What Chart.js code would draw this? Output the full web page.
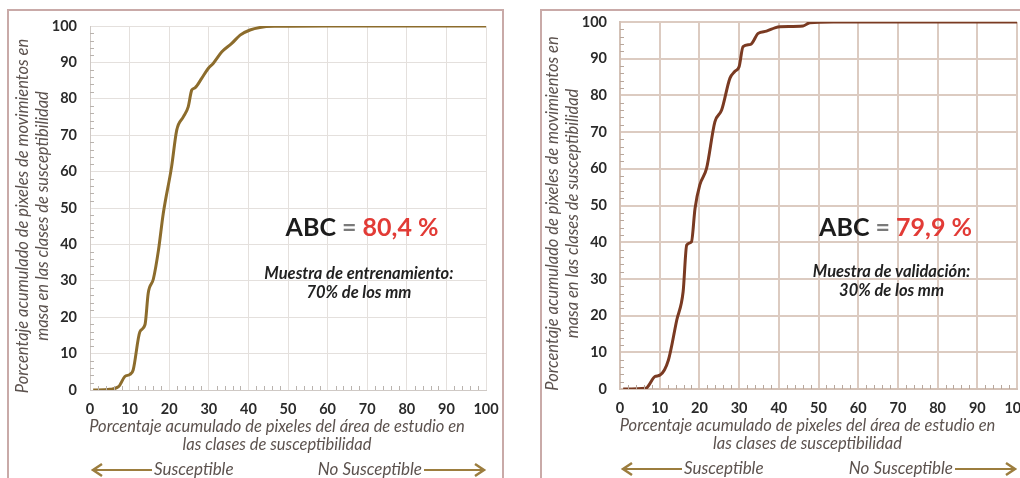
<!DOCTYPE html>
<html>
<head>
<meta charset="utf-8">
<script src="https://cdn.jsdelivr.net/npm/chart.js@4.4.1/dist/chart.umd.min.js"></script>
<style>
  html, body { margin: 0; padding: 0; background: #fff; overflow: hidden; width: 1020px; height: 478px; }
  .panel { position: absolute; border: 2px solid #c9aaa8; background: #fff; }
  canvas { position: absolute; }
</style>
</head>
<body>
<div class="panel" style="left:7px; top:9px; width:493px; height:480px;"></div>
<div class="panel" style="left:540px; top:9px; width:500px; height:480px;"></div>
<canvas id="trainChart" width="494" height="468" style="left:8px; top:10px;"></canvas>
<canvas id="validChart" width="499" height="468" style="left:541px; top:10px;"></canvas>
<script>
// Main

// curva de exito - muestra de entrenamiento (70%)
var trainX = [0.8, 5, 7.2, 8.8, 10.1, 10.9, 12.6, 13.9, 14.7, 16.0, 17.3, 18.5, 20.6, 21.9, 23.6, 24.8, 25.7, 26.5, 28.2, 29.9, 31.1, 33.3, 35.8, 37.9, 40.4, 42.9, 46.5, 60, 80, 100];
var trainY = [0, 0.2, 0.9, 3.7, 4.3, 5.5, 16, 18, 26.6, 30.5, 38.5, 48.5, 61.3, 71.4, 75.1, 77.8, 82.4, 83, 85.6, 88.4, 89.7, 92.9, 95.2, 97.5, 98.9, 99.6, 99.9, 100, 100, 100];

// curva de prediccion - muestra de validacion (30%)
var validX = [0.8, 6.5, 7.3, 8.8, 10.1, 12.2, 14.3, 15.9, 16.8, 18.0, 18.9, 20.1, 21.8, 23.9, 25.6, 27.7, 28.9, 30.0, 31.0, 32.9, 34.8, 36.9, 39.0, 40.3, 46.1, 47.8, 53.7, 70, 100];
var validY = [0, 0.2, 1.1, 3.4, 3.8, 7.9, 18.8, 26.5, 39.2, 40.1, 49.2, 55.6, 60.1, 72.8, 76, 84.7, 86.5, 87.8, 93.3, 93.9, 96.9, 97.5, 98.4, 98.7, 98.9, 99.8, 100, 100, 100];

var axisTicks = [0, 10, 20, 30, 40, 50, 60, 70, 80, 90, 100];

var yTitle = ["Porcentaje acumulado de pixeles de movimientos en", "masa en las clases de susceptibilidad"];
var xTitle = ["Porcentaje acumulado de pixeles del área de estudio en", "las clases de susceptibilidad"];

var FONT = "Lato, 'Open Sans', sans-serif";

function toPoints(xs, ys) {
    var pts = [];
    for (var i = 0; i < xs.length; i++) pts.push({x: xs[i], y: ys[i]});
    return pts;
}

// textos, flechas y marcas menores
const decoPlugin = {
    id: 'deco',
    afterDraw(chart) {
        var ctx = chart.ctx, a = chart.chartArea, sx = chart.scales.x, sy = chart.scales.y;
        var o = chart.options.plugins.deco;
        ctx.save();

        // minor ticks every 2 units
        ctx.strokeStyle = o.minorColor;
        ctx.lineWidth = 1;
        ctx.beginPath();
        for (var v = 2; v < 100; v += 2) {
            if (v % 10 === 0) continue;
            var px = Math.round(sx.getPixelForValue(v)) + 0.5;
            ctx.moveTo(px, a.bottom); ctx.lineTo(px, a.bottom - 4);
            var py = Math.round(sy.getPixelForValue(v)) + 0.5;
            ctx.moveTo(a.left, py); ctx.lineTo(a.left + 4, py);
        }
        ctx.stroke();

        // y title
        ctx.fillStyle = '#5c524e';
        ctx.font = "italic 16.5px " + FONT;
        ctx.textAlign = 'center';
        ctx.textBaseline = 'middle';
        ctx.save();
        ctx.translate(a.left - 67, (a.top + a.bottom) / 2 + 8);
        ctx.rotate(-Math.PI / 2);
        ctx.fillText(yTitle[0], 0, 0);
        ctx.fillText(yTitle[1], 0, 20);
        ctx.restore();

        // x title
        var cx = (a.left + a.right) / 2 - 11;
        ctx.font = "italic 16.5px " + FONT;
        ctx.fillText(xTitle[0], cx, a.bottom + 37);
        ctx.fillText(xTitle[1], cx, a.bottom + 55);

        // arrows
        var ay = a.bottom + 80;
        ctx.font = "italic 17px " + FONT;
        ctx.textAlign = 'left';
        ctx.fillText("Susceptible", a.left + 64, ay);
        ctx.textAlign = 'right';
        ctx.fillText("No Susceptible", a.right - 64, ay);
        ctx.strokeStyle = '#9c7d3e';
        ctx.lineWidth = 2;
        ctx.beginPath();
        ctx.moveTo(a.left + 3, ay); ctx.lineTo(a.left + 62, ay);
        ctx.moveTo(a.right - 62, ay); ctx.lineTo(a.right - 2, ay);
        ctx.stroke();
        ctx.lineWidth = 2.5;
        ctx.beginPath();
        ctx.moveTo(a.left + 12, ay - 6); ctx.lineTo(a.left + 3, ay); ctx.lineTo(a.left + 12, ay + 6);
        ctx.moveTo(a.right - 11, ay - 6); ctx.lineTo(a.right - 2, ay); ctx.lineTo(a.right - 11, ay + 6);
        ctx.stroke();

        // ABC = xx,x %
        var parts = [["ABC", '#1c1c1c'], [" = ", '#7a7a7a'], [o.abc, '#e23b36']];
        ctx.font = "bold 25px " + FONT;
        var w = 0;
        parts.forEach(function(p){ w += ctx.measureText(p[0]).width; });
        var tx = sx.getPixelForValue(o.abcPos[0]) - w / 2, ty = sy.getPixelForValue(o.abcPos[1]);
        ctx.textAlign = 'left';
        parts.forEach(function(p){
            ctx.fillStyle = p[1];
            ctx.fillText(p[0], tx, ty);
            tx += ctx.measureText(p[0]).width;
        });

        // muestra
        ctx.fillStyle = '#222';
        ctx.font = "italic bold 16.5px " + FONT;
        ctx.textAlign = 'center';
        var mx = sx.getPixelForValue(o.notePos[0]), my = sy.getPixelForValue(o.notePos[1]);
        ctx.fillText(o.note[0], mx, my);
        ctx.fillText(o.note[1], mx, my + 19);

        ctx.restore();
    }
};

function makeChart(id, xs, ys, s) {
    var config = {
        type: 'line',
        data: { datasets: [{
            data: toPoints(xs, ys),
            borderColor: s.lineColor,
            borderWidth: 3,
            pointRadius: 0,
            cubicInterpolationMode: 'monotone',
            fill: false
        }]},
        plugins: [decoPlugin],
        options: {
            responsive: false,
            animation: false,
            layout: { padding: { top: s.padTop, left: 0, right: s.padRight, bottom: 0 } },
            plugins: {
                legend: { display: false },
                tooltip: { enabled: false },
                deco: { minorColor: s.minorColor, abc: s.abc, abcPos: s.abcPos, note: s.note, notePos: s.notePos }
            },
            scales: {
                x: {
                    type: 'linear', min: 0, max: 100,
                    afterBuildTicks: function(scale){ scale.ticks = axisTicks.map(function(v){ return {value: v}; }); },
                    afterFit: function(scale){ scale.height = s.xHeight; scale.paddingLeft = 0; scale.paddingRight = 0; },
                    grid: { color: s.gridColor, lineWidth: s.gridWidth, drawTicks: false },
                    border: { color: s.borderColor, width: s.gridWidth },
                    ticks: { padding: 11, maxRotation: 0, color: '#2a2a2a', font: { family: FONT, size: 14.5, weight: 'bold' } }
                },
                y: {
                    min: 0, max: 100,
                    afterBuildTicks: function(scale){ scale.ticks = axisTicks.map(function(v){ return {value: v}; }); },
                    afterFit: function(scale){ scale.width = s.yWidth; scale.paddingTop = 0; scale.paddingBottom = 0; },
                    grid: { color: s.gridColor, lineWidth: s.gridWidth, drawTicks: false },
                    border: { color: s.borderColor, width: s.gridWidth },
                    ticks: { padding: 13, color: '#2a2a2a', font: { family: FONT, size: 14.5, weight: 'bold' } }
                }
            }
        }
    };
    return new Chart(document.getElementById(id), config);
}

makeChart('trainChart', trainX, trainY, {
    lineColor: '#8c6c2c', gridColor: '#e4e0dd', gridWidth: 1, borderColor: '#cfc9c5', minorColor: '#b9b3ae',
    padTop: 16, padRight: 16, xHeight: 88, yWidth: 82,
    abc: "80,4 %", abcPos: [68.7, 44.5],
    note: ["Muestra de entrenamiento:", "70% de los mm"], notePos: [67.9, 32]
});

makeChart('validChart', validX, validY, {
    lineColor: '#7a3a22', gridColor: '#dccbc1', gridWidth: 2, borderColor: '#d3c1b6', minorColor: '#b8a79c',
    padTop: 12, padRight: 23, xHeight: 89, yWidth: 79,
    abc: "79,9 %", abcPos: [69.4, 43.9],
    note: ["Muestra de validación:", "30% de los mm"], notePos: [68.4, 32]
});
</script>
</body>
</html>
